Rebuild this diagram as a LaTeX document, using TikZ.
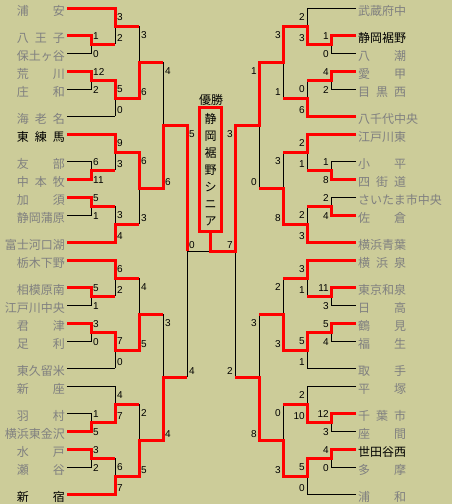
\documentclass[tikz,border=0pt]{standalone}
\usepackage{fontspec}
\setmainfont{Liberation Sans}
\newfontfamily\jp{Noto Sans CJK JP}
\definecolor{bg}{RGB}{204,204,153}
\definecolor{ngray}{RGB}{128,128,128}
\definecolor{wred}{RGB}{255,0,0}
\tikzset{
  blk/.style={line width=1pt, black},
  win/.style={line width=3pt, wred, line join=miter},
  tname/.style={inner sep=0pt, font=\jp\fontsize{12pt}{12pt}\selectfont, text=ngray},
  tnameB/.style={tname, text=black},
  sc/.style={inner sep=0pt, font=\fontsize{10pt}{10pt}\selectfont, text=black},
  champ/.style={inner sep=0pt, anchor=base, font=\jp\fontsize{12pt}{12pt}\selectfont, text=black},
  champbox/.style={draw=wred, line width=3pt}
}
% names: baseline = 15 + 9k
\newcommand\nmL[3][tname]{\node[#1,anchor=base east] (nL#2) at (65,{15+9*#2}) {\makebox[48pt][r]{#3}};}
\newcommand\nmR[3][tname]{\node[#1,anchor=base west] (nR#2) at (358,{15+9*#2}) {\makebox[48pt][l]{#3}};}
% scores
\newcommand\sLf[2]{\node[sc,anchor=base west] (sLf#1) at (93,{12.6+9*#1}) {#2};}
\newcommand\sRf[2]{\node[sc,anchor=base east] (sRf#1) at (329,{12.6+9*#1}) {#2};}
\newcommand\sLt[3]{\node[sc,anchor=base west] (sLt#1-#2) at ({#1+2},{20.6+9*#2}) {#3};}
\newcommand\sLb[3]{\node[sc,anchor=base west] (sLb#1-#2) at ({#1+2},{5.6+9*#2}) {#3};}
\newcommand\sRt[3]{\node[sc,anchor=base east] (sRt#1-#2) at ({#1-2},{20.6+9*#2}) {#3};}
\newcommand\sRb[3]{\node[sc,anchor=base east] (sRb#1-#2) at ({#1-2},{5.6+9*#2}) {#3};}
\begin{document}
\begin{tikzpicture}[x=1pt,y=-1pt]
\fill[bg] (0,0) rectangle (452,504);
\useasboundingbox (0,0) rectangle (452,504);

% ---------- black skeleton ----------
\foreach \o in {0,14,28,42}{
  \foreach \a/\b/\c/\d in {67/91/115/139, 356/331/307/283}{
    \draw[blk] (\a,{8+9*\o}) -- (\c,{8+9*\o});
    \draw[blk] (\a,{35+9*\o}) -- (\b,{35+9*\o}) -- (\b,{53+9*\o}) -- (\a,{53+9*\o});
    \draw[blk] (\a,{71+9*\o}) -- (\b,{71+9*\o}) -- (\b,{89+9*\o}) -- (\a,{89+9*\o});
    \draw[blk] (\a,{116+9*\o}) -- (\c,{116+9*\o});
    \draw[blk] (\c,{8+9*\o}) -- (\c,{44+9*\o});
    \draw[blk] (\c,{80+9*\o}) -- (\c,{116+9*\o});
    \draw[blk] (\d,{26+9*\o}) -- (\d,{98+9*\o});
  }
}
\draw[blk] (163,62) -- (163,188);
\draw[blk] (163,314) -- (163,440);
\draw[blk] (259,62) -- (259,188);
\draw[blk] (259,314) -- (259,440);
\draw[blk] (187,125) -- (187,377);
\draw[blk] (235,125) -- (235,377);
\draw[blk] (187,251) -- (235,251);

% ---------- winners' paths, left ----------
\draw[win] (67,8) -- (115,8) -- (115,26) -- (139,26);
\draw[win] (67,35) -- (91,35) -- (91,44) -- (115,44);
\draw[win] (67,71) -- (91,71) -- (91,80) -- (115,80) -- (115,98) -- (139,98) -- (139,62) -- (163,62);
\draw[win] (67,134) -- (115,134) -- (115,152) -- (139,152) -- (139,188) -- (163,188) -- (163,125) -- (187,125) -- (187,251);
\draw[win] (67,179) -- (91,179) -- (91,170) -- (115,170);
\draw[win] (67,197) -- (91,197) -- (91,206) -- (115,206);
\draw[win] (67,242) -- (115,242) -- (115,224) -- (139,224);
\draw[win] (67,260) -- (115,260) -- (115,278) -- (139,278);
\draw[win] (67,287) -- (91,287) -- (91,296) -- (115,296);
\draw[win] (67,323) -- (91,323) -- (91,332) -- (115,332) -- (115,350) -- (139,350) -- (139,314) -- (163,314);
\draw[win] (67,431) -- (91,431) -- (91,422) -- (115,422) -- (115,404) -- (139,404);
\draw[win] (67,449) -- (91,449) -- (91,458) -- (115,458);
\draw[win] (67,494) -- (115,494) -- (115,476) -- (139,476) -- (139,440) -- (163,440) -- (163,377) -- (187,377);

% ---------- winners' paths, right ----------
\draw[win] (356,35) -- (331,35) -- (331,44) -- (307,44) -- (307,26) -- (283,26) -- (283,62) -- (259,62) -- (259,125) -- (235,125) -- (235,251) -- (210.5,251) -- (210.5,231);
\draw[win] (356,71) -- (331,71) -- (331,80) -- (307,80);
\draw[win] (356,116) -- (307,116) -- (307,98) -- (283,98);
\draw[win] (356,134) -- (307,134) -- (307,152) -- (283,152);
\draw[win] (356,179) -- (331,179) -- (331,170) -- (307,170);
\draw[win] (356,215) -- (331,215) -- (331,206) -- (307,206);
\draw[win] (356,242) -- (307,242) -- (307,224) -- (283,224) -- (283,188) -- (259,188);
\draw[win] (356,260) -- (307,260) -- (307,278) -- (283,278);
\draw[win] (356,287) -- (331,287) -- (331,296) -- (307,296);
\draw[win] (356,323) -- (331,323) -- (331,332) -- (307,332) -- (307,350) -- (283,350) -- (283,314) -- (259,314);
\draw[win] (356,413) -- (331,413) -- (331,422) -- (307,422) -- (307,404) -- (283,404);
\draw[win] (356,449) -- (331,449) -- (331,458) -- (307,458) -- (307,476) -- (283,476) -- (283,440) -- (259,440) -- (259,377) -- (235,377);

% ---------- champion box ----------
\draw[champbox] (199.5,107.5) rectangle (221.5,231.8);
\node[champ] (yusho) at (211,104) {優勝};
\foreach \ch [count=\i from 0] in {静,岡,裾,野,シ,ニ,ア}
  \node[champ] (ch\i) at (210.5,{123+17*\i}) {\ch};

% ---------- team names, left ----------
\nmL{0}{浦\hfill 安}
\nmL{3}{八\hfill 王\hfill 子}
\nmL{5}{保土ヶ谷}
\nmL{7}{荒\hfill 川}
\nmL{9}{庄\hfill 和}
\nmL{12}{海\hfill 老\hfill 名}
\nmL[tnameB]{14}{東\hfill 練\hfill 馬}
\nmL{17}{友\hfill 部}
\nmL{19}{中\hfill 本\hfill 牧}
\nmL{21}{加\hfill 須}
\nmL{23}{静岡蒲原}
\nmL{26}{富士河口湖}
\nmL{28}{栃木下野}
\nmL{31}{相模原南}
\nmL{33}{江戸川中央}
\nmL{35}{君\hfill 津}
\nmL{37}{足\hfill 利}
\nmL{40}{東久留米}
\nmL{42}{新\hfill 座}
\nmL{45}{羽\hfill 村}
\nmL{47}{横浜東金沢}
\nmL{49}{水\hfill 戸}
\nmL{51}{瀬\hfill 谷}
\nmL[tnameB]{54}{新\hfill 宿}

% ---------- team names, right ----------
\nmR{0}{武蔵府中}
\nmR[tnameB]{3}{静岡裾野}
\nmR{5}{八\hfill 潮}
\nmR{7}{愛\hfill 甲}
\nmR{9}{目\hfill 黒\hfill 西}
\nmR{12}{八千代中央}
\nmR{14}{江戸川東}
\nmR{17}{小\hfill 平}
\nmR{19}{四\hfill 街\hfill 道}
\nmR{21}{さいたま市中央}
\nmR{23}{佐\hfill 倉}
\nmR{26}{横浜青葉}
\nmR{28}{横\hfill 浜\hfill 泉}
\nmR{31}{東京和泉}
\nmR{33}{日\hfill 高}
\nmR{35}{鶴\hfill 見}
\nmR{37}{福\hfill 生}
\nmR{40}{取\hfill 手}
\nmR{42}{平\hfill 塚}
\nmR{45}{千\hfill 葉\hfill 市}
\nmR{47}{座\hfill 間}
\nmR[tnameB]{49}{世田谷西}
\nmR{51}{多\hfill 摩}
\nmR{54}{浦\hfill 和}

% ---------- scores, left ----------
\sLf{3}{1}\sLf{5}{0}\sLf{7}{12}\sLf{9}{2}
\sLf{17}{6}\sLf{19}{11}\sLf{21}{5}\sLf{23}{1}
\sLf{31}{5}\sLf{33}{1}\sLf{35}{3}\sLf{37}{0}
\sLf{45}{1}\sLf{47}{5}\sLf{49}{3}\sLf{51}{2}
\sLt{115}{0}{3}\sLb{115}{4}{2}\sLt{115}{8}{5}\sLb{115}{12}{0}
\sLt{115}{14}{9}\sLb{115}{18}{3}\sLt{115}{22}{3}\sLb{115}{26}{4}
\sLt{115}{28}{6}\sLb{115}{32}{2}\sLt{115}{36}{7}\sLb{115}{40}{0}
\sLt{115}{42}{4}\sLb{115}{46}{7}\sLt{115}{50}{6}\sLb{115}{54}{7}
\sLt{139}{2}{3}\sLb{139}{10}{6}
\sLt{139}{16}{6}\sLb{139}{24}{3}
\sLt{139}{30}{4}\sLb{139}{38}{5}
\sLt{139}{44}{2}\sLb{139}{52}{5}
\sLt{163}{6}{4}\sLb{163}{20}{6}
\sLt{163}{34}{3}\sLb{163}{48}{4}
\sLt{187}{13}{5}\sLb{187}{41}{4}
\sLb{187}{27}{0}

% ---------- scores, right ----------
\sRf{3}{1}\sRf{5}{0}\sRf{7}{4}\sRf{9}{2}
\sRf{17}{1}\sRf{19}{8}\sRf{21}{2}\sRf{23}{4}
\sRf{31}{11}\sRf{33}{3}\sRf{35}{5}\sRf{37}{4}
\sRf{45}{12}\sRf{47}{3}\sRf{49}{4}\sRf{51}{0}
\sRt{307}{0}{2}\sRb{307}{4}{3}\sRt{307}{8}{0}\sRb{307}{12}{6}
\sRt{307}{14}{2}\sRb{307}{18}{1}\sRt{307}{22}{2}\sRb{307}{26}{3}
\sRt{307}{28}{3}\sRb{307}{32}{1}\sRt{307}{36}{5}\sRb{307}{40}{1}
\sRt{307}{42}{2}\sRb{307}{46}{10}\sRt{307}{50}{5}\sRb{307}{54}{0}
\sRt{283}{2}{3}\sRb{283}{10}{1}
\sRt{283}{16}{3}\sRb{283}{24}{8}
\sRt{283}{30}{2}\sRb{283}{38}{3}
\sRt{283}{44}{0}\sRb{283}{52}{3}
\sRt{259}{6}{1}\sRb{259}{20}{0}
\sRt{259}{34}{3}\sRb{259}{48}{8}
\sRt{235}{13}{3}\sRb{235}{41}{2}
\sRb{235}{27}{7}
\end{tikzpicture}
\end{document}
